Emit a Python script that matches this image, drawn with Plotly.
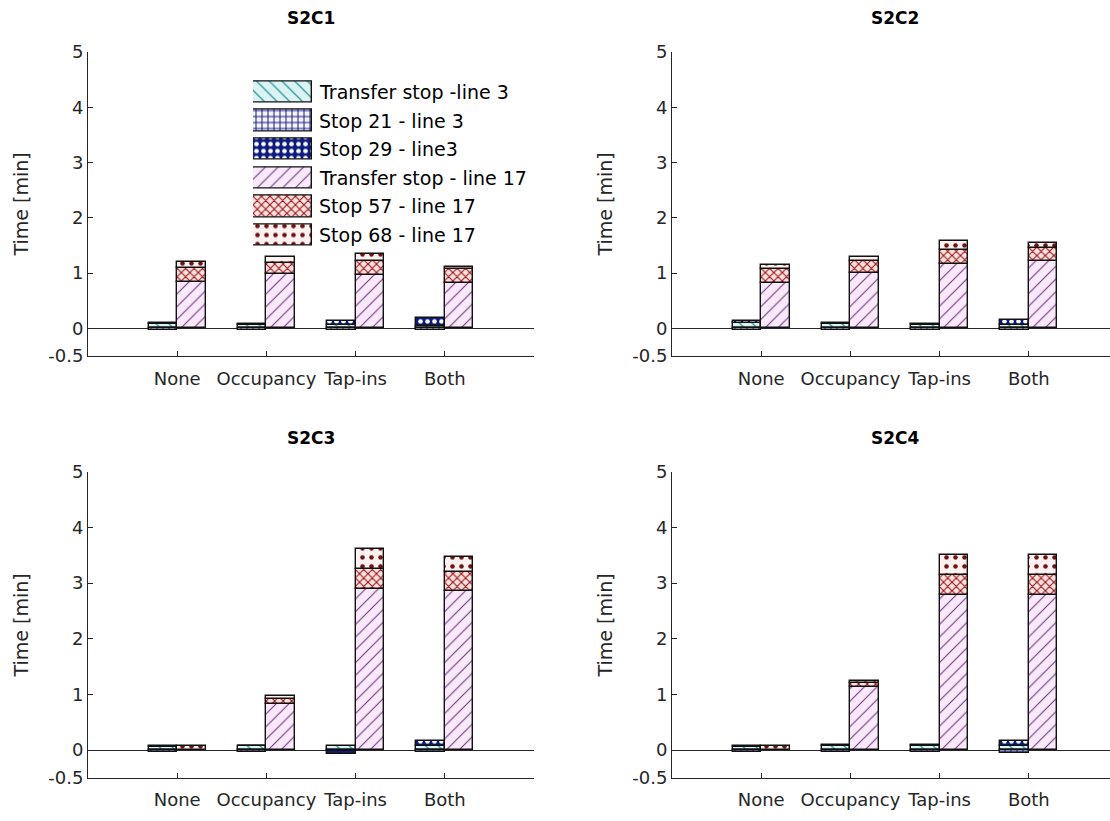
import numpy as np
import plotly.graph_objects as go

categories = ["None", "Occupancy", "Tap-ins", "Both"]
scenarios = ["S2C1", "S2C2", "S2C3", "S2C4"]
series_names = ["Transfer stop -line 3", "Stop 21 - line 3", "Stop 29 - line3",
                "Transfer stop - line 17", "Stop 57 - line 17", "Stop 68 - line 17"]

# values per scenario (S2C1..S2C4), per category (None, Occupancy, Tap-ins, Both) [min]
transfer_l3 = [[0.08, 0.06, 0.06, 0.05],
               [0.10, 0.08, 0.07, 0.06],
               [0.06, 0.07, 0.07, 0.07],
               [0.06, 0.08, 0.08, 0.07]]
stop21_l3 = [[-0.03, -0.03, -0.03, -0.03],
             [-0.03, -0.03, -0.03, -0.03],
             [-0.03, -0.03, -0.02, -0.03],
             [-0.03, -0.03, -0.03, -0.06]]
stop29_l3 = [[0.01, 0.02, 0.07, 0.14],
             [0.03, 0.02, 0.01, 0.10],
             [0.01, 0.00, -0.05, 0.10],
             [0.01, 0.02, 0.02, 0.09]]
transfer_l17 = [[0.84, 0.98, 0.97, 0.83],
                [0.82, 1.00, 1.16, 1.22],
                [0.01, 0.835, 2.89, 2.86],
                [0.01, 1.13, 2.79, 2.79]]
stop57_l17 = [[0.25, 0.21, 0.25, 0.24],
              [0.26, 0.22, 0.26, 0.23],
              [0.00, 0.085, 0.36, 0.34],
              [0.00, 0.07, 0.35, 0.35]]
stop68_l17 = [[0.12, 0.11, 0.12, 0.04],
              [0.07, 0.08, 0.16, 0.10],
              [0.07, 0.055, 0.36, 0.27],
              [0.06, 0.045, 0.36, 0.36]]

y_ticks = [-0.5, 0, 1, 2, 3, 4, 5]
y_ticktext = ["-0.5", "0", "1", "2", "3", "4", "5"]

styles = [
    dict(shape="\\", fg="#2a9696", bg="#dcf3f3", size=9, sol=0.14),
    dict(shape="+", fg="#14147a", bg="#f4f5ff", size=6, sol=0.3),
    dict(shape=".", fg="#ffffff", bg="#0d1a80", size=7, sol=0.35),
    dict(shape="/", fg="#6b3a7a", bg="#fae9fa", size=9, sol=0.12),
    dict(shape="x", fg="#9a1010", bg="#fbe2e2", size=6, sol=0.32),
    dict(shape=".", fg="#6e1010", bg="#fdf1f1", size=9, sol=0.2),
]

FONT = "DejaVu Sans"
W, H = 1110, 821
TXT = "#262626"
left_x = (88, 534)
right_x = (672, 1110)
top_y = (42, 354)
bot_y = (473, 787)
unit = (left_x[1] - left_x[0]) / 5.0

cat_idx = np.arange(1, len(categories) + 1)
off = 0.16
bw = 0.32

all_series = [transfer_l3, stop21_l3, stop29_l3, transfer_l17, stop57_l17, stop68_l17]

fig = go.Figure()


def marker_for(st):
    return dict(color=st["bg"],
                line=dict(color="#111111", width=1.4),
                pattern=dict(shape=st["shape"], fgcolor=st["fg"], bgcolor=st["bg"],
                             size=st["size"], solidity=st["sol"], fillmode="replace"))


for s_i, sc in enumerate(scenarios):
    sfx = "" if s_i == 0 else str(s_i + 1)
    for k, (name, vals, st) in enumerate(zip(series_names, all_series, styles)):
        xpos = cat_idx - off if k < 3 else cat_idx + off
        fig.add_trace(go.Bar(
            x=xpos, y=vals[s_i], width=bw, name=name, showlegend=False,
            xaxis="x" + sfx, yaxis="y" + sfx, marker=marker_for(st),
        ))


def dom(px, total, flip=False):
    a, b = px
    if flip:
        return [(total - b) / total, (total - a) / total]
    return [a / total, b / total]


axes_cfg = {
    1: (left_x, top_y, 5.0),
    2: (right_x, top_y, (right_x[1] - right_x[0]) / unit),
    3: (left_x, bot_y, 5.0),
    4: (right_x, bot_y, (right_x[1] - right_x[0]) / unit),
}
for i, (xp, yp, xmax) in axes_cfg.items():
    sfx = "" if i == 1 else str(i)
    fig.layout["xaxis" + sfx] = dict(
        domain=dom(xp, W), range=[0, xmax], tickmode="array",
        tickvals=list(cat_idx), ticktext=categories, anchor="y" + sfx,
        showline=True, linecolor=TXT, linewidth=1,
        ticks="inside", ticklen=5, tickcolor=TXT, ticklabelstandoff=6,
        showgrid=False, zeroline=False, fixedrange=True,
        tickfont=dict(family=FONT, size=18, color=TXT),
    )
    fig.layout["yaxis" + sfx] = dict(
        domain=dom(yp, H, flip=True), range=[-0.5, 5], tickmode="array",
        tickvals=y_ticks, ticktext=y_ticktext, anchor="x" + sfx,
        showline=True, linecolor=TXT, linewidth=1,
        ticks="inside", ticklen=5, tickcolor=TXT,
        showgrid=False, zeroline=True, zerolinecolor=TXT, zerolinewidth=1,
        tickfont=dict(family=FONT, size=18, color=TXT),
        title=dict(text="Time [min]", font=dict(family=FONT, size=19, color=TXT), standoff=14),
    )
    fig.add_annotation(
        text="<b>" + scenarios[i - 1] + "</b>", xref="paper", yref="paper",
        x=(xp[0] + (xp[0] + 5 * unit)) / 2 / W, y=(H - yp[0] + 22) / H,
        xanchor="center", yanchor="bottom", showarrow=False,
        font=dict(family=FONT, size=17, color="#000000"),
    )

# legend drawn as a small overlay axis with patterned swatches
leg_x = (253, 312)
row0, row_step = 83, 29.4
leg_y = (row0 - row_step / 2, row0 + row_step * (len(series_names) - 0.5))
for k, (name, st) in enumerate(zip(series_names, styles)):
    fig.add_trace(go.Bar(
        x=[1], y=[k], orientation="h", width=0.74, showlegend=False,
        xaxis="x5", yaxis="y5", marker=marker_for(st), hoverinfo="skip",
    ))
    fig.add_annotation(
        text=name, xref="paper", yref="y5", x=(leg_x[1] + 5) / W, y=k,
        xanchor="left", yanchor="middle", showarrow=False,
        font=dict(family=FONT, size=19, color="#000000"),
    )
fig.layout["xaxis5"] = dict(domain=dom(leg_x, W), range=[0, 1], visible=False,
                            anchor="y5", fixedrange=True)
fig.layout["yaxis5"] = dict(domain=dom(leg_y, H, flip=True),
                            range=[len(series_names) - 0.5, -0.5], visible=False,
                            anchor="x5", fixedrange=True)

fig.update_layout(
    barmode="relative", bargap=0,
    width=W, height=H, margin=dict(l=0, r=0, t=0, b=0),
    plot_bgcolor="rgba(0,0,0,0)", paper_bgcolor="white",
    showlegend=False,
)

fig.write_html("out.html")
